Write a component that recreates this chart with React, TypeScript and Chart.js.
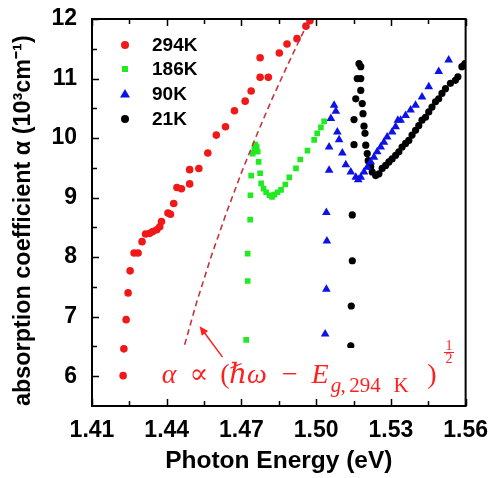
import React, { useEffect, useRef } from 'react';
import { Chart, registerables } from 'chart.js';

Chart.register(...registerables);

// ---- tick labels ----
const X_TICKS = [1.41, 1.44, 1.47, 1.5, 1.53, 1.56];
const X_MINOR = [1.425, 1.455, 1.485, 1.515, 1.545];
const Y_TICKS = [6, 7, 8, 9, 10, 11, 12];
const Y_MINOR = [6.5, 7.5, 8.5, 9.5, 10.5, 11.5];

// ---- series names ----
const SERIES = ['294K', '186K', '90K', '21K'];

// ---- 294 K ----
const E294 = [1.4225, 1.4228, 1.4237, 1.4245, 1.4253, 1.4269, 1.4285, 1.4301, 1.4315, 1.4332, 1.4344, 1.436, 1.4372, 1.4379, 1.4405, 1.4415, 1.4428, 1.4441, 1.4459, 1.4492, 1.4492, 1.4529, 1.4565, 1.4599, 1.4636, 1.4672, 1.4715, 1.4739, 1.4775, 1.4808, 1.4775, 1.4852, 1.4883, 1.4923, 1.4959, 1.4975];
const A294 = [6.01, 6.46, 6.95, 7.4, 7.77, 8.07, 8.07, 8.26, 8.39, 8.4, 8.43, 8.46, 8.51, 8.6, 8.74, 8.72, 8.9, 9.17, 9.15, 9.23, 9.47, 9.49, 9.75, 10.05, 10.19, 10.46, 10.62, 10.79, 11.02, 11.02, 11.35, 11.43, 11.58, 11.67, 11.88, 11.97];

// ---- 186 K ----
const E186 = [1.4719, 1.4725, 1.4725, 1.4735, 1.4736, 1.4739, 1.4745, 1.4752, 1.4756, 1.4761, 1.4765, 1.4769, 1.4775, 1.4779, 1.4789, 1.4799, 1.4812, 1.4823, 1.4832, 1.4845, 1.4859, 1.4876, 1.4892, 1.4919, 1.4936, 1.4965, 1.4992, 1.5004, 1.5019, 1.5032];
const A186 = [6.61, 7.6, 8.06, 8.63, 9.04, 9.37, 9.74, 9.82, 9.89, 9.85, 9.77, 9.6, 9.41, 9.24, 9.15, 9.09, 9.04, 9.01, 9.05, 9.09, 9.13, 9.22, 9.34, 9.49, 9.64, 9.79, 9.97, 10.08, 10.18, 10.28];

// ---- 90 K ----
const E90 = [1.5036, 1.5041, 1.5043, 1.5041, 1.5052, 1.5052, 1.5059, 1.5072, 1.5079, 1.5085, 1.5092, 1.5105, 1.5119, 1.5139, 1.5159, 1.5169, 1.5179, 1.5192, 1.5205, 1.5219, 1.5232, 1.5245, 1.5259, 1.5272, 1.5285, 1.5305, 1.5319, 1.5328, 1.5339, 1.5359, 1.5379, 1.5399, 1.5425, 1.5452, 1.5492, 1.5532];
const A90 = [6.71, 7.46, 8.27, 8.75, 9.46, 9.85, 10.33, 10.55, 10.45, 10.1, 9.97, 9.75, 9.55, 9.43, 9.34, 9.3, 9.34, 9.43, 9.51, 9.6, 9.68, 9.77, 9.85, 9.93, 10.02, 10.1, 10.19, 10.3, 10.3, 10.38, 10.47, 10.55, 10.69, 10.86, 11.12, 11.31];

// ---- 21 K ----
const E21 = [1.5139, 1.5141, 1.5145, 1.5145, 1.5152, 1.5152, 1.5159, 1.5165, 1.5172, 1.5179, 1.5179, 1.5179, 1.5185, 1.5188, 1.5192, 1.5196, 1.5199, 1.5205, 1.5209, 1.5219, 1.5225, 1.5239, 1.5252, 1.5265, 1.5279, 1.5292, 1.5305, 1.5319, 1.5332, 1.5345, 1.5359, 1.5372, 1.5385, 1.5399, 1.5412, 1.5425, 1.5439, 1.5452, 1.5465, 1.5479, 1.5492, 1.5505, 1.5519, 1.5539, 1.5559, 1.5569, 1.5585, 1.5597];
const A21 = [6.51, 7.18, 7.94, 8.71, 9.89, 10.31, 10.66, 11.0, 11.25, 11.2, 11.0, 10.8, 10.58, 10.41, 10.2, 10.08, 9.88, 9.74, 9.62, 9.52, 9.43, 9.37, 9.4, 9.49, 9.54, 9.6, 9.65, 9.71, 9.77, 9.85, 9.91, 9.96, 10.05, 10.13, 10.21, 10.3, 10.35, 10.44, 10.52, 10.61, 10.66, 10.75, 10.83, 10.92, 10.97, 11.03, 11.2, 11.25];

// ---- dashed square-root guide ----
const FIT_E = [1.4472, 1.452, 1.458, 1.464, 1.47, 1.476, 1.482, 1.488, 1.494, 1.4975];
const FIT_A = [6.53, 7.24, 8.03, 8.75, 9.42, 10.04, 10.63, 11.18, 11.71, 12.0];

// arrow (data coords): tail -> head
const ARROW_TAIL = [1.4624, 6.32];
const ARROW_HEAD = [1.4532, 6.84];

const COLORS = ['#f01818', '#22ea22', '#0c12e8', '#000000'];
const FIT_COLOR = '#c8323e';
const ANNOT_COLOR = '#ff1f1f';

const pts = (xs: number[], ys: number[]) => xs.map((x, i) => ({ x, y: ys[i] }));

function drawMarker(ctx: CanvasRenderingContext2D, kind: string, x: number, y: number, color: string) {
  ctx.fillStyle = color;
  ctx.beginPath();
  if (kind === 'circle') {
    ctx.arc(x, y, 4, 0, Math.PI * 2);
  } else if (kind === 'rect') {
    ctx.rect(x - 3, y - 3, 6, 6);
  } else if (kind === 'triangle') {
    ctx.moveTo(x, y - 5);
    ctx.lineTo(x + 5, y + 3.5);
    ctx.lineTo(x - 5, y + 3.5);
    ctx.closePath();
  }
  ctx.fill();
}

const SERIF = "'Liberation Serif', 'DejaVu Serif', serif";

const overlayPlugin = {
  id: 'overlay',
  afterDatasetsDraw(chart: any) {
    const { ctx, chartArea: ca, scales } = chart;
    const xs = scales.x;
    const ys = scales.y;
    ctx.save();

    // white box behind formula
    ctx.fillStyle = '#ffffff';
    ctx.fillRect(ca.left + 63, ca.bottom - 58, ca.right - 3 - (ca.left + 63), 53);

    // arrow
    const tx = xs.getPixelForValue(ARROW_TAIL[0]);
    const ty = ys.getPixelForValue(ARROW_TAIL[1]);
    const hx = xs.getPixelForValue(ARROW_HEAD[0]);
    const hy = ys.getPixelForValue(ARROW_HEAD[1]);
    ctx.strokeStyle = ANNOT_COLOR;
    ctx.fillStyle = ANNOT_COLOR;
    ctx.lineWidth = 1.5;
    const ang = Math.atan2(hy - ty, hx - tx);
    ctx.beginPath();
    ctx.moveTo(tx, ty);
    ctx.lineTo(hx - 6 * Math.cos(ang), hy - 6 * Math.sin(ang));
    ctx.stroke();
    ctx.beginPath();
    ctx.moveTo(hx, hy);
    ctx.lineTo(hx - 9 * Math.cos(ang) + 4 * Math.sin(ang), hy - 9 * Math.sin(ang) - 4 * Math.cos(ang));
    ctx.lineTo(hx - 9 * Math.cos(ang) - 4 * Math.sin(ang), hy - 9 * Math.sin(ang) + 4 * Math.cos(ang));
    ctx.closePath();
    ctx.fill();

    // formula  α ∝ (ħω − E_{g,294 K})^{1/2}
    const L = ca.left;
    const base = ca.bottom - 23;
    const sub = ca.bottom - 14;
    const it = `italic 28px ${SERIF}`;
    const rm = `28px ${SERIF}`;
    const itS = `italic 21px ${SERIF}`;
    const rmS = `21px ${SERIF}`;
    const rmSS = `14px ${SERIF}`;
    ctx.textAlign = 'center';
    ctx.textBaseline = 'alphabetic';
    const put = (t: string, f: string, x: number, y: number) => {
      ctx.font = f;
      ctx.fillText(t, x, y);
    };
    put('α', it, L + 77, base);
    put('∝', rm, L + 107, base);
    put('(', rm, L + 133, base);
    put('ℏ', it, L + 146, base);
    put('ω', it, L + 165, base);
    put('−', rm, L + 198, base);
    put('E', it, L + 228, base);
    put('g', itS, L + 244, sub);
    put(',', rmS, L + 251, sub);
    put('294', rmS, L + 273, sub);
    put('K', rmS, L + 309, sub);
    put(')', rm, L + 340, base);
    put('1', rmSS, L + 357, ca.bottom - 56);
    put('2', rmSS, L + 357, ca.bottom - 43);
    ctx.lineWidth = 1;
    ctx.beginPath();
    ctx.moveTo(L + 352, ca.bottom - 53.5);
    ctx.lineTo(L + 362, ca.bottom - 53.5);
    ctx.stroke();

    // legend
    const kinds = ['circle', 'rect', 'triangle', 'circle'];
    const rows = [26, 50, 75, 100];
    ctx.textAlign = 'left';
    ctx.textBaseline = 'middle';
    ctx.font = "bold 19px 'Liberation Sans', Arial, sans-serif";
    SERIES.forEach((name, i) => {
      const y = ca.top + rows[i];
      drawMarker(ctx, kinds[i], L + 33, y, COLORS[i]);
      ctx.fillStyle = '#000';
      ctx.fillText(name, L + 60, y + 1);
    });
    ctx.restore();
  },
  afterDraw(chart: any) {
    const { ctx, chartArea: ca, scales } = chart;
    const xs = scales.x;
    const ys = scales.y;
    ctx.save();
    ctx.strokeStyle = '#000';
    ctx.lineWidth = 1.5;
    ctx.beginPath();
    const tick = (vals: number[], len: number) => {
      vals.forEach((v) => {
        const px = Math.round(xs.getPixelForValue(v)) + 0.5;
        ctx.moveTo(px, ca.bottom);
        ctx.lineTo(px, ca.bottom - len);
        ctx.moveTo(px, ca.top);
        ctx.lineTo(px, ca.top + len);
      });
    };
    tick(X_TICKS, 7);
    tick(X_MINOR, 5);
    Y_TICKS.forEach((v) => {
      const py = Math.round(ys.getPixelForValue(v)) + 0.5;
      ctx.moveTo(ca.left, py);
      ctx.lineTo(ca.left + 7, py);
    });
    Y_MINOR.forEach((v) => {
      const py = Math.round(ys.getPixelForValue(v)) + 0.5;
      ctx.moveTo(ca.left, py);
      ctx.lineTo(ca.left + 5, py);
    });
    ctx.stroke();
    ctx.lineWidth = 2;
    ctx.strokeRect(ca.left, ca.top, ca.right - ca.left, ca.bottom - ca.top);
    ctx.restore();
  },
};

export default function App() {
  const ref = useRef<HTMLCanvasElement>(null);
  useEffect(() => {
    Chart.defaults.font.family = "'Liberation Sans', Arial, sans-serif";
    Chart.defaults.color = '#000';
    const chart = new Chart(ref.current as HTMLCanvasElement, {
      type: 'scatter',
      data: {
        datasets: [
          {
            label: 'fit',
            data: pts(FIT_E, FIT_A),
            showLine: true,
            pointRadius: 0,
            borderColor: FIT_COLOR,
            borderWidth: 1.6,
            borderDash: [6, 4],
            fill: false,
          } as any,
          { label: SERIES[0], data: pts(E294, A294), pointStyle: 'circle', pointRadius: 3.8, backgroundColor: COLORS[0], borderWidth: 0 },
          { label: SERIES[1], data: pts(E186, A186), pointStyle: 'rect', pointRadius: 4, backgroundColor: COLORS[1], borderWidth: 0 },
          { label: SERIES[2], data: pts(E90, A90), pointStyle: 'triangle', pointRadius: 5, backgroundColor: COLORS[2], borderWidth: 0 },
          { label: SERIES[3], data: pts(E21, A21), pointStyle: 'circle', pointRadius: 3.6, backgroundColor: COLORS[3], borderWidth: 0 },
        ],
      },
      options: {
        responsive: false,
        animation: false,
        devicePixelRatio: 1,
        layout: { padding: { top: 19, right: 27, left: 0, bottom: 0 } },
        plugins: { legend: { display: false }, tooltip: { enabled: false } },
        scales: {
          x: {
            type: 'linear',
            min: 1.41,
            max: 1.56,
            afterBuildTicks: (s: any) => {
              s.ticks = X_TICKS.map((v) => ({ value: v }));
            },
            afterFit: (s: any) => {
              s.height = 72;
            },
            grid: { display: false },
            border: { display: false },
            ticks: {
              font: { size: 23, weight: 'bold', lineHeight: 1 },
              padding: 5,
              maxRotation: 0,
              autoSkip: false,
              callback: (v: any) => Number(v).toFixed(2),
            },
            title: {
              display: true,
              text: 'Photon Energy (eV)',
              font: { size: 24.5, weight: 'bold' },
              padding: { top: 0, bottom: 2 },
            },
          },
          y: {
            type: 'linear',
            min: 5.5,
            max: 12,
            afterBuildTicks: (s: any) => {
              s.ticks = Y_TICKS.map((v) => ({ value: v }));
            },
            afterFit: (s: any) => {
              s.width = 92;
            },
            grid: { display: false },
            border: { display: false },
            ticks: {
              font: { size: 23, weight: 'bold', lineHeight: 1 },
              padding: 7,
              autoSkip: false,
              callback: (v: any) => String(v),
            },
            title: {
              display: true,
              align: 'start',
              text: 'absorption coefficient α (10³cm⁻¹)',
              font: { size: 23.4, weight: 'bold' },
              padding: { top: 10, bottom: 0 },
            },
          },
        },
      },
      plugins: [overlayPlugin],
    } as any);
    return () => chart.destroy();
  }, []);
  return (
    <div style={{ position: 'absolute', left: 0, top: 0, width: 493, height: 478 }}>
      <canvas ref={ref} width={493} height={478} style={{ display: 'block' }} />
    </div>
  );
}
